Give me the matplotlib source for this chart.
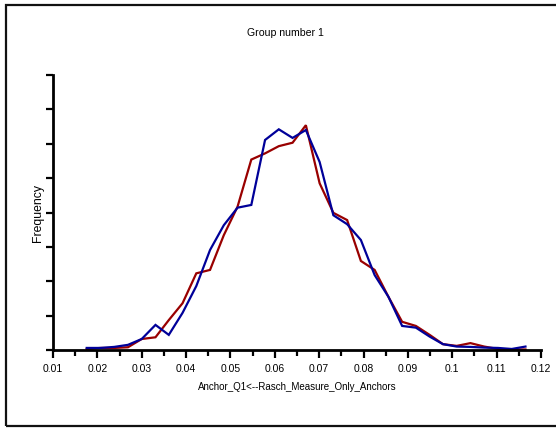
import matplotlib
matplotlib.use("Agg")
import matplotlib.pyplot as plt
from matplotlib.patches import Rectangle
from matplotlib.ticker import MultipleLocator, NullFormatter

# Bin centres of the measure
measure = [0.0176, 0.0207, 0.0238, 0.0269, 0.0300, 0.0331, 0.0361, 0.0392,
           0.0423, 0.0454, 0.0485, 0.0516, 0.0547, 0.0578, 0.0609, 0.0640,
           0.0670, 0.0701, 0.0732, 0.0763, 0.0794, 0.0825, 0.0856, 0.0887,
           0.0918, 0.0949, 0.0979, 0.1010, 0.1041, 0.1072, 0.1103, 0.1134,
           0.1165]

# Frequencies of the two distributions
freq_red = [0.03, 0.06, 0.06, 0.08, 0.32, 0.37, 0.87, 1.36, 2.23, 2.33, 3.34,
            4.17, 5.54, 5.72, 5.93, 6.03, 6.54, 4.85, 3.99, 3.78, 2.59, 2.33,
            1.55, 0.82, 0.70, 0.44, 0.17, 0.12, 0.20, 0.10, 0.03, 0.015, 0.015]
freq_blue = [0.06, 0.06, 0.09, 0.15, 0.32, 0.73, 0.44, 1.08, 1.86, 2.91, 3.63,
             4.14, 4.22, 6.11, 6.42, 6.17, 6.40, 5.47, 3.92, 3.66, 3.20, 2.18,
             1.55, 0.70, 0.65, 0.39, 0.17, 0.10, 0.09, 0.07, 0.06, 0.03, 0.10]

x_ticks = [0.01, 0.02, 0.03, 0.04, 0.05, 0.06, 0.07, 0.08, 0.09, 0.1, 0.11, 0.12]
x_tick_labels = ["0.01", "0.02", "0.03", "0.04", "0.05", "0.06", "0.07",
                 "0.08", "0.09", "0.1", "0.11", "0.12"]

W, H = 556, 428
fig = plt.figure(figsize=(W / 100, H / 100), dpi=100)
fig.patch.set_facecolor("white")

# outer frame
fig.add_artist(Rectangle((6 / W, 1 - 426 / H), 1.2, (426 - 5) / H,
                         transform=fig.transFigure, fill=False,
                         edgecolor="#111111", linewidth=1.6, clip_on=False))

ax = fig.add_axes([53 / W, 1 - 350 / H, (541 - 53) / W, (350 - 75) / H])
ax.plot(measure, freq_red, color="#990000", linewidth=1.6, solid_joinstyle="miter")
ax.plot(measure, freq_blue, color="#000099", linewidth=1.6, solid_joinstyle="miter")

ax.set_xlim(0.01, 0.12)
ax.set_ylim(0, 8)
for s in ("top", "right"):
    ax.spines[s].set_visible(False)
for s in ("left", "bottom"):
    ax.spines[s].set_linewidth(2.0)
    ax.spines[s].set_color("black")

ax.set_xticks(x_ticks)
ax.set_xticklabels(x_tick_labels, fontsize=7.5, family="Liberation Sans")
ax.xaxis.set_minor_locator(MultipleLocator(0.005))
ax.yaxis.set_major_locator(MultipleLocator(1))
ax.yaxis.set_major_formatter(NullFormatter())
ax.tick_params(axis="x", which="major", direction="out", length=6, width=1.6, pad=4)
ax.tick_params(axis="x", which="minor", direction="out", length=4, width=1.6)
ax.tick_params(axis="y", which="major", direction="out", length=5, width=1.6)

ax.set_xlabel("Anchor_Q1<--Rasch_Measure_Only_Anchors", fontsize=7,
              family="Liberation Sans", labelpad=6)
ax.set_ylabel("Frequency", fontsize=8.8, family="Liberation Sans")
ax.yaxis.set_label_coords((44 - 53) / (541 - 53), 0.5)

fig.text(285 / W, 1 - 33 / H, "Group number 1", ha="center", va="center",
         fontsize=7.6, family="Liberation Sans")

fig.savefig("out.png", dpi=100)
